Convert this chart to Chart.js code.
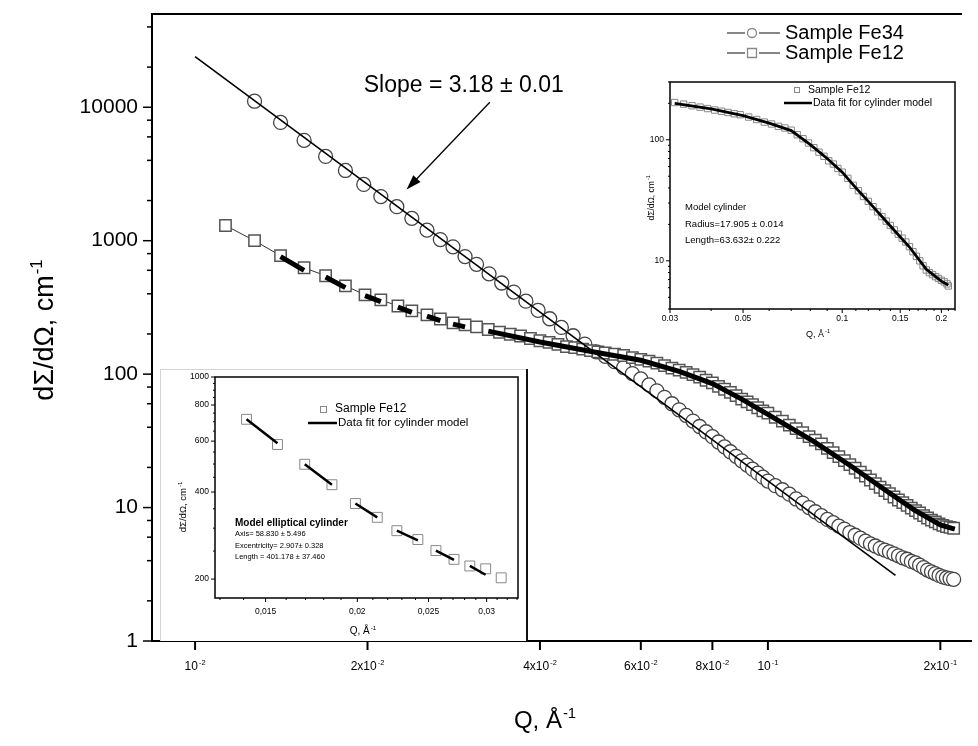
<!DOCTYPE html>
<html>
<head>
<meta charset="utf-8">
<script src="https://cdn.jsdelivr.net/npm/chart.js@4.4.0/dist/chart.umd.min.js"></script>
<style>
  body { margin: 0; background: #fff; }
  #wrap { position: relative; width: 978px; height: 746px; }
  canvas { position: absolute; }
  #mainChart { left: 0; top: 0; }
  #insetBL { left: 160px; top: 369px; background: #fff; }
  #insetTR { left: 640px; top: 62px; }
</style>
</head>
<body>
<div id="wrap">
  <canvas id="mainChart" width="978" height="746"></canvas>
  <canvas id="insetBL" width="368" height="272"></canvas>
  <canvas id="insetTR" width="330" height="285"></canvas>
</div>
<script>
// ---- main panel: Sample Fe34 (circles)
const qFe34 = [0.0127, 0.0141, 0.0155, 0.0169, 0.0183, 0.0197, 0.0211, 0.0225, 0.0239, 0.0254, 0.0268, 0.0282, 0.0296,
  0.0310, 0.0326, 0.0343, 0.0360, 0.0378, 0.0397, 0.0416, 0.0436, 0.0457, 0.0479, 0.0502,
  0.052, 0.054, 0.056, 0.058, 0.060, 0.062, 0.064, 0.066, 0.068, 0.070, 0.072, 0.074, 0.076, 0.078, 0.080,
  0.082, 0.084, 0.086, 0.088, 0.090, 0.092, 0.094, 0.096, 0.098, 0.100,
  0.103, 0.106, 0.109, 0.112, 0.115, 0.118, 0.121, 0.124, 0.127, 0.130, 0.133, 0.136, 0.139, 0.142, 0.145,
  0.148, 0.151, 0.154, 0.157, 0.160, 0.163, 0.166, 0.169, 0.172, 0.175, 0.178, 0.181, 0.184, 0.187, 0.190,
  0.193, 0.196, 0.199, 0.202, 0.205, 0.208, 0.211];
const iFe34 = [11100, 7700, 5650, 4280, 3360, 2640, 2140, 1800, 1470, 1200, 1020, 900, 760,
  665, 565, 482, 412, 352, 301, 260, 224, 194, 168, 147,
  136, 124, 112, 101, 92, 83, 75, 67, 60, 54, 49, 44.5, 40.5, 37, 34,
  31, 28.5, 26.2, 24.2, 22.4, 20.8, 19.4, 18.1, 16.9, 15.8,
  14.6, 13.6, 12.6, 11.6, 10.8, 10.0, 9.3, 8.7, 8.15, 7.7, 7.25, 6.9, 6.5, 6.2, 5.9,
  5.6, 5.35, 5.15, 4.95, 4.8, 4.65, 4.5, 4.35, 4.2, 4.1, 3.95, 3.85, 3.7, 3.55, 3.4,
  3.3, 3.2, 3.1, 3.02, 2.97, 2.93, 2.9];
// power law fit, slope 3.18
const qFitFe34 = [0.01, 0.167];
const iFitFe34 = [24000, 3.1];

// ---- main panel: Sample Fe12 (squares)
const qFe12 = [0.0113, 0.0127, 0.0141, 0.0155, 0.0169, 0.0183, 0.0198, 0.0211, 0.0226, 0.0239, 0.0254, 0.0268, 0.0282, 0.0296,
  0.031, 0.0325, 0.034, 0.0355, 0.037, 0.0385, 0.040, 0.0415, 0.043, 0.0445, 0.046, 0.0475, 0.049, 0.0505,
  0.052, 0.054, 0.056, 0.058, 0.060, 0.062, 0.064, 0.066, 0.068, 0.070, 0.072, 0.074, 0.076, 0.078, 0.080,
  0.082, 0.084, 0.086, 0.088, 0.090, 0.092, 0.094, 0.096, 0.098, 0.100,
  0.103, 0.106, 0.109, 0.112, 0.115, 0.118, 0.121, 0.124, 0.127, 0.130, 0.133, 0.136, 0.139, 0.142, 0.145,
  0.148, 0.151, 0.154, 0.157, 0.160, 0.163, 0.166, 0.169, 0.172, 0.175, 0.178, 0.181, 0.184, 0.187, 0.190,
  0.193, 0.196, 0.199, 0.202, 0.205, 0.208, 0.211];
const iFe12 = [1300, 1000, 772, 627, 546, 459, 393, 360, 324, 298, 278, 259, 242, 234,
  226, 216, 206, 199, 193, 185, 178, 173, 167, 161, 158, 154, 150, 147,
  144, 141, 138, 133, 129, 125, 121, 116, 111, 107, 103, 99, 95, 90, 86,
  81, 77, 73, 69, 65, 62, 59, 56, 53, 51,
  47.5, 44.5, 41.5, 39, 36.5, 34, 32, 30, 27.8, 25.8, 24.1, 22.5, 21, 19.7, 18.4,
  17.2, 16.1, 15.1, 14.2, 13.4, 12.7, 12, 11.4, 10.9, 10.4, 9.9, 9.5, 9.1, 8.7, 8.35,
  8.05, 7.8, 7.55, 7.35, 7.2, 7.1, 7.0];
// cylinder model fit (null = gap between pieces)
const qFitFe12 = [0.0141, 0.0155, null, 0.0169, 0.0183, null, 0.0198, 0.0211, null, 0.0226, 0.0239, null,
  0.0254, 0.0268, null, 0.0282, 0.0296, null,
  0.0325, 0.040, 0.050, 0.060, 0.070, 0.080, 0.090, 0.100, 0.120, 0.140, 0.160, 0.180, 0.200, 0.212];
const iFitFe12 = [760, 600, null, 535, 445, null, 387, 350, null, 318, 290, null,
  272, 252, null, 237, 226, null,
  210, 174, 146, 127, 105, 85, 65, 50, 31.5, 20.3, 13.6, 9.6, 7.4, 6.9];

const yTicksMain = [1, 10, 100, 1000, 10000];
const yLabelsMain = ['1', '10', '100', '1000', '10000'];
const xTicksMain = [0.01, 0.02, 0.04, 0.06, 0.08, 0.1, 0.2];
const xLabelsMain = ['10^-2', '2x10^-2', '4x10^-2', '6x10^-2', '8x10^-2', '10^-1', '2x10^-1'];

// ---- inset top right
const qInsetTR = [0.031, 0.033, 0.035, 0.037, 0.039, 0.041, 0.043, 0.045, 0.047, 0.049,
  0.052, 0.055, 0.058, 0.061, 0.064, 0.067, 0.070, 0.073, 0.076, 0.079,
  0.082, 0.085, 0.088, 0.091, 0.094, 0.097, 0.100, 0.104, 0.108, 0.112,
  0.116, 0.120, 0.124, 0.128, 0.132, 0.136, 0.140, 0.144, 0.148, 0.152,
  0.156, 0.160, 0.164, 0.168, 0.172, 0.176, 0.180, 0.184, 0.188, 0.192,
  0.196, 0.200, 0.204, 0.208, 0.210];
const iInsetTR = [203, 197, 191, 186, 181, 176, 172, 168, 164, 161,
  154, 147, 140, 135, 129, 125, 120, 110, 102, 94,
  86, 79, 73, 67, 63, 58, 54, 48, 42, 38,
  34, 31, 28, 25.4, 23.2, 21.3, 19.6, 18, 16.6, 15.4,
  14.3, 13.1, 11.9, 10.9, 10, 9.1, 8.4, 8.0, 7.7, 7.4,
  7.15, 6.9, 6.7, 6.45, 6.2];
const qFitTR = [0.031, 0.04, 0.05, 0.06, 0.07, 0.08, 0.09, 0.1, 0.11, 0.12, 0.14, 0.16, 0.18, 0.2, 0.21];
const iFitTR = [200, 180, 158, 137, 119, 91, 70, 54, 40, 31, 19.4, 13, 8.5, 6.8, 6.3];
const xTicksTR = [0.03, 0.05, 0.1, 0.15, 0.2];
const xLabelsTR = ['0.03', '0.05', '0.1', '0.15', '0.2'];
const yTicksTR = [10, 100];

// ---- inset bottom left
const qInsetBL = [0.01413, 0.01557, 0.01696, 0.01847, 0.01988, 0.02129, 0.02264, 0.02418, 0.02559, 0.02708, 0.02846, 0.02991, 0.0314];
const iInsetBL = [714, 584, 499, 424, 365, 327, 294, 274, 251, 234, 222, 217, 202];
const qFitBL = [0.01413, 0.01557, null, 0.01696, 0.01847, null, 0.01988, 0.02129, null, 0.02264, 0.02418, null, 0.02559, 0.02708, null, 0.02846, 0.0299];
const iFitBL = [714, 590, null, 499, 424, null, 365, 327, null, 294, 272, null, 251, 233, null, 222, 207];
const xTicksBL = [0.015, 0.02, 0.025, 0.03];
const xLabelsBL = ['0,015', '0,02', '0,025', '0,03'];
const yTicksBL = [200, 400, 600, 800, 1000];

const FAM = '"Liberation Sans", Arial, Helvetica, sans-serif';
const fnt = (s, b) => (b ? 'bold ' : '') + s + 'px ' + FAM;
const pts = (xs, ys) => xs.map((x, i) => ({ x: x, y: ys[i] }));

// text with optional superscript: "base^sup"
function supLabel(ctx, label, x, y, size, align) {
  const parts = label.split('^');
  ctx.font = fnt(size);
  const wb = ctx.measureText(parts[0]).width;
  let ws = 0;
  if (parts[1]) { ctx.font = fnt(size * 0.62); ws = ctx.measureText(parts[1]).width + 1; }
  const w = wb + ws;
  const x0 = align === 'center' ? x - w / 2 : (align === 'right' ? x - w : x);
  ctx.textAlign = 'left';
  ctx.textBaseline = 'alphabetic';
  ctx.font = fnt(size);
  ctx.fillText(parts[0], x0, y);
  if (parts[1]) { ctx.font = fnt(size * 0.62); ctx.fillText(parts[1], x0 + wb + 1, y - size * 0.42); }
}
function rotLabel(ctx, label, x, y, size) {
  ctx.save();
  ctx.translate(x, y);
  ctx.rotate(-Math.PI / 2);
  supLabel(ctx, label, 0, size * 0.35, size, 'center');
  ctx.restore();
}
function seg(ctx, x1, y1, x2, y2) {
  ctx.beginPath(); ctx.moveTo(x1, y1); ctx.lineTo(x2, y2); ctx.stroke();
}
function txt(ctx, s, x, y, size, align, bold) {
  ctx.font = fnt(size, bold);
  ctx.textAlign = align || 'left';
  ctx.textBaseline = 'middle';
  ctx.fillText(s, x, y);
}

const mainDecor = {
  id: 'mainDecor',
  afterDraw(chart) {
    const { ctx, chartArea: a, scales: { x, y } } = chart;
    ctx.save();
    ctx.strokeStyle = '#000';
    ctx.fillStyle = '#000';
    ctx.lineWidth = 2;
    ctx.beginPath();
    ctx.moveTo(a.left, a.top); ctx.lineTo(a.left, a.bottom); ctx.lineTo(a.right + 10, a.bottom);
    ctx.moveTo(a.left - 1, a.top); ctx.lineTo(a.right, a.top);
    ctx.stroke();

    // y ticks
    ctx.lineWidth = 1.5;
    yTicksMain.forEach(d => {
      [1, 2, 4, 6, 8].forEach(m => {
        const v = d * m;
        if (v > y.max) return;
        const py = y.getPixelForValue(v);
        seg(ctx, a.left - (m === 1 ? 9 : 5), py, a.left, py);
      });
    });
    yTicksMain.forEach((v, i) => txt(ctx, yLabelsMain[i], a.left - 14, y.getPixelForValue(v), 21, 'right'));

    // x ticks
    ctx.lineWidth = 2;
    xTicksMain.forEach((v, i) => {
      const px = x.getPixelForValue(v);
      seg(ctx, px, a.bottom, px, a.bottom + 9);
      supLabel(ctx, xLabelsMain[i], px, a.bottom + 29, 12, 'center');
    });

    // axis titles
    rotLabel(ctx, 'd\u03A3/d\u03A9, cm^-1', 44, 330, 27);
    supLabel(ctx, 'Q, \u00C5^-1', 545, 728, 24, 'center');

    // legend
    ctx.strokeStyle = '#444';
    ctx.lineWidth = 1.3;
    [['Sample Fe34', 'circle', 33], ['Sample Fe12', 'rect', 53]].forEach(r => {
      const yy = r[2];
      seg(ctx, 727, yy, 745, yy);
      seg(ctx, 759, yy, 780, yy);
      ctx.beginPath();
      if (r[1] === 'circle') ctx.arc(752, yy, 4.5, 0, Math.PI * 2);
      else ctx.rect(747.5, yy - 4.5, 9, 9);
      ctx.strokeStyle = '#888';
      ctx.stroke();
      ctx.strokeStyle = '#444';
      ctx.fillStyle = '#000';
      txt(ctx, r[0], 785, yy, 20, 'left');
    });

    // slope annotation
    const tx = x.getPixelForValue(0.0197), ty = y.getPixelForValue(14400);
    txt(ctx, 'Slope = 3.18 \u00B1 0.01', tx, ty, 23, 'left');
    const x1 = x.getPixelForValue(0.0327), y1 = y.getPixelForValue(10900);
    const x2 = x.getPixelForValue(0.0234), y2 = y.getPixelForValue(2420);
    ctx.strokeStyle = '#000';
    ctx.lineWidth = 1.3;
    const ang = Math.atan2(y2 - y1, x2 - x1);
    seg(ctx, x1, y1, x2 - 10 * Math.cos(ang), y2 - 10 * Math.sin(ang));
    ctx.beginPath();
    ctx.moveTo(x2, y2);
    ctx.lineTo(x2 - 15 * Math.cos(ang) + 5 * Math.sin(ang), y2 - 15 * Math.sin(ang) - 5 * Math.cos(ang));
    ctx.lineTo(x2 - 15 * Math.cos(ang) - 5 * Math.sin(ang), y2 - 15 * Math.sin(ang) + 5 * Math.cos(ang));
    ctx.closePath();
    ctx.fill();
    ctx.restore();
  }
};

new Chart('mainChart', {
  type: 'scatter',
  data: {
    datasets: [
      { label: 'fit Fe34', data: pts(qFitFe34, iFitFe34), showLine: true, borderColor: '#000', borderWidth: 1.6, pointRadius: 0, order: 0 },
      { label: 'fit Fe12', data: pts(qFitFe12, iFitFe12), showLine: true, spanGaps: false, borderColor: '#000', borderWidth: 5, pointRadius: 0, order: 1 },
      { label: 'Sample Fe12', data: pts(qFe12, iFe12), showLine: true, borderColor: '#333', borderWidth: 1,
        pointStyle: 'rect', pointRadius: 8, pointBorderColor: '#555', pointBorderWidth: 1.5, pointBackgroundColor: '#fff', order: 2 },
      { label: 'Sample Fe34', data: pts(qFe34, iFe34), showLine: false,
        pointStyle: 'circle', pointRadius: 7, pointBorderColor: '#444', pointBorderWidth: 1.3, pointBackgroundColor: '#fff', order: 3 }
    ]
  },
  options: {
    responsive: false,
    animation: false,
    layout: { padding: { left: 152, top: 14, right: 16, bottom: 105 } },
    scales: {
      x: { type: 'logarithmic', min: 0.00841, max: 0.2182, display: false },
      y: { type: 'logarithmic', min: 1, max: 50000, display: false }
    },
    plugins: { legend: { display: false }, tooltip: { enabled: false } }
  },
  plugins: [mainDecor]
});

// ---- inset top right
const trDecor = {
  id: 'trDecor',
  afterDraw(chart) {
    const { ctx, chartArea: a, scales: { x, y } } = chart;
    ctx.save();
    ctx.strokeStyle = '#000';
    ctx.fillStyle = '#000';
    ctx.lineWidth = 1.5;
    ctx.strokeRect(a.left, a.top, a.right - a.left, a.bottom - a.top);
    ctx.lineWidth = 1;
    [1, 10, 100].forEach(d => {
      for (let m = 1; m < 10; m++) {
        const v = d * m;
        if (v < y.min || v > y.max) continue;
        const py = y.getPixelForValue(v);
        seg(ctx, a.left - (m === 1 ? 4 : 2), py, a.left, py);
      }
    });
    yTicksTR.forEach(v => txt(ctx, String(v), a.left - 6, y.getPixelForValue(v), 8.5, 'right'));
    for (let k = 3; k <= 22; k++) {
      const v = k / 100;
      const px = x.getPixelForValue(v);
      seg(ctx, px, a.bottom, px, a.bottom + (xTicksTR.includes(v) ? 4 : 2));
    }
    xTicksTR.forEach((v, i) => txt(ctx, xLabelsTR[i], x.getPixelForValue(v), a.bottom + 10, 8.5, 'center'));
    rotLabel(ctx, 'd\u03A3/d\u03A9, cm^-1', 11, 136, 8.5);
    supLabel(ctx, 'Q, \u00C5^-1', 178, 275, 9, 'center');
    // legend
    ctx.strokeStyle = '#888';
    ctx.strokeRect(154.5, 25.5, 5, 5);
    txt(ctx, 'Sample Fe12', 168, 28, 10.5, 'left');
    ctx.strokeStyle = '#000';
    ctx.lineWidth = 2.5;
    seg(ctx, 144, 41, 172, 41);
    txt(ctx, 'Data fit for cylinder model', 173, 41, 10.5, 'left');
    txt(ctx, 'Model cylinder', 45, 145, 9.5, 'left');
    txt(ctx, 'Radius=17.905 \u00B1 0.014', 45, 162, 9.5, 'left');
    txt(ctx, 'Length=63.632\u00B1 0.222', 45, 178, 9.5, 'left');
    ctx.restore();
  }
};

new Chart('insetTR', {
  type: 'scatter',
  data: {
    datasets: [
      { label: 'fit', data: pts(qFitTR, iFitTR), showLine: true, borderColor: '#000', borderWidth: 2.8, pointRadius: 0, order: 0 },
      { label: 'Sample Fe12', data: pts(qInsetTR, iInsetTR), showLine: false,
        pointStyle: 'rect', pointRadius: 4.5, pointBorderColor: '#888', pointBorderWidth: 1, pointBackgroundColor: 'rgba(255,255,255,0)', order: 1 }
    ]
  },
  options: {
    responsive: false,
    animation: false,
    layout: { padding: { left: 30, top: 20, right: 15, bottom: 38 } },
    scales: {
      x: { type: 'logarithmic', min: 0.03, max: 0.22, display: false },
      y: { type: 'logarithmic', min: 4, max: 300, display: false }
    },
    plugins: { legend: { display: false }, tooltip: { enabled: false } }
  },
  plugins: [trDecor]
});

// ---- inset bottom left
const blDecor = {
  id: 'blDecor',
  afterDraw(chart) {
    const { ctx, chartArea: a, scales: { x, y } } = chart;
    const W = chart.width, H = chart.height;
    ctx.save();
    ctx.strokeStyle = '#d4d4d4';
    ctx.lineWidth = 1;
    seg(ctx, 0.5, 0, 0.5, H);
    seg(ctx, 0, 0.5, W, 0.5);
    ctx.strokeStyle = '#111';
    ctx.lineWidth = 2;
    seg(ctx, W - 1, 0, W - 1, H);
    ctx.strokeStyle = '#000';
    ctx.fillStyle = '#000';
    ctx.lineWidth = 1.5;
    ctx.strokeRect(a.left, a.top, a.right - a.left, a.bottom - a.top);
    ctx.lineWidth = 1;
    for (let v = 200; v <= 1000; v += 50) {
      const py = y.getPixelForValue(v);
      seg(ctx, a.left - (yTicksBL.includes(v) ? 4 : 2), py, a.left, py);
    }
    yTicksBL.forEach(v => txt(ctx, String(v), a.left - 6, y.getPixelForValue(v), 8.5, 'right'));
    for (let k = 13; k <= 33; k++) {
      const v = k / 1000;
      const px = x.getPixelForValue(v);
      seg(ctx, px, a.bottom, px, a.bottom + (k % 5 === 0 ? 4 : 2));
    }
    xTicksBL.forEach((v, i) => txt(ctx, xLabelsBL[i], x.getPixelForValue(v), a.bottom + 14, 8.5, 'center'));
    rotLabel(ctx, 'd\u03A3/d\u03A9, cm^-1', 23, 138, 9.5);
    supLabel(ctx, 'Q, \u00C5^-1', 203, 265, 10, 'center');
    // legend
    ctx.strokeStyle = '#888';
    ctx.strokeRect(160.5, 37.5, 6, 6);
    txt(ctx, 'Sample Fe12', 175, 40, 12, 'left');
    ctx.strokeStyle = '#000';
    ctx.lineWidth = 2.5;
    seg(ctx, 148, 54, 177, 54);
    txt(ctx, 'Data fit for cylinder model', 178, 54, 11.5, 'left');
    txt(ctx, 'Model elliptical cylinder', 75, 154, 10, 'left', true);
    txt(ctx, 'Axis= 58.830 \u00B1 5.496', 75, 165, 7.5, 'left');
    txt(ctx, 'Excentricity= 2.907\u00B1 0.328', 75, 177, 7.5, 'left');
    txt(ctx, 'Length = 401.178 \u00B1 37.460', 75, 188, 7.5, 'left');
    ctx.restore();
  }
};

new Chart('insetBL', {
  type: 'scatter',
  data: {
    datasets: [
      { label: 'fit', data: pts(qFitBL, iFitBL), showLine: true, spanGaps: false, borderColor: '#000', borderWidth: 2.5, pointRadius: 0, order: 0 },
      { label: 'Sample Fe12', data: pts(qInsetBL, iInsetBL), showLine: false,
        pointStyle: 'rect', pointRadius: 7, pointBorderColor: '#888', pointBorderWidth: 1, pointBackgroundColor: '#fff', order: 1 }
    ]
  },
  options: {
    responsive: false,
    animation: false,
    layout: { padding: { left: 55, top: 4, right: 10, bottom: 43 } },
    scales: {
      x: { type: 'logarithmic', min: 0.0128, max: 0.0331, display: false },
      y: { type: 'logarithmic', min: 172, max: 1000, display: false }
    },
    plugins: { legend: { display: false }, tooltip: { enabled: false } }
  },
  plugins: [blDecor]
});
</script>
</body>
</html>
